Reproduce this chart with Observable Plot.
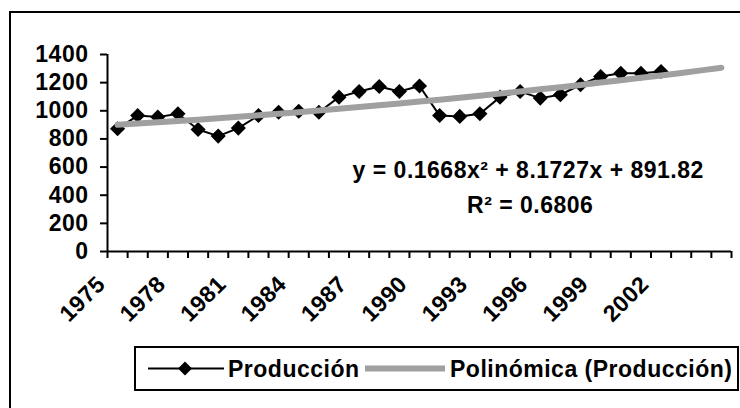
<!DOCTYPE html>
<html>
<head>
<meta charset="utf-8">
<script src="https://cdn.jsdelivr.net/npm/d3@7"></script>
<script src="https://cdn.jsdelivr.net/npm/@observablehq/plot@0.6"></script>
<style>
html, body { margin: 0; padding: 0; background: #fff; width: 740px; height: 408px; overflow: hidden; }
body { position: relative; font-family: "Liberation Sans", Arial, sans-serif; font-weight: bold; }
#chart { position: absolute; left: 0; top: 0; }
#frame { position: absolute; left: 9px; top: 11px; width: 800px; height: 500px; border: 2px solid #000; box-sizing: border-box; pointer-events: none; }
#legend { position: absolute; left: 134px; top: 346px; width: 605px; height: 45px; border: 2px solid #000; box-sizing: border-box; background: #fff; }
#legend .item { position: absolute; top: 0; height: 41px; line-height: 42px; font-size: 23px; letter-spacing: 0.5px; color: #000; white-space: nowrap; }
#legend svg { position: absolute; top: 0; }
</style>
</head>
<body>
<div id="chart"></div>
<div id="legend">
  <svg style="left:12px" width="76" height="41">
    <line x1="0" y1="20.5" x2="76" y2="20.5" stroke="#000" stroke-width="2"/>
    <path d="M37,13.5 L44,20.5 L37,27.5 L30,20.5 Z" fill="#000"/>
  </svg>
  <span class="item" style="left:92px">Producción</span>
  <svg style="left:229px" width="80" height="41">
    <line x1="0" y1="20.5" x2="80" y2="20.5" stroke="#a0a0a0" stroke-width="6"/>
  </svg>
  <span class="item" style="left:314px">Polinómica (Producción)</span>
</div>
<div id="frame"></div>
<script>
// Data
const years = [1975,1976,1977,1978,1979,1980,1981,1982,1983,1984,1985,1986,1987,1988,1989,1990,1991,1992,1993,1994,1995,1996,1997,1998,1999,2000,2001,2002];
const production = [872,966,955,979,867,820,877,966,990,997,990,1097,1137,1173,1137,1176,966,960,979,1097,1137,1090,1114,1185,1244,1267,1267,1279];
// Polynomial trendline (with 3-period forecast) as drawn
const trendYears = [1975,1976,1977,1978,1979,1980,1981,1982,1983,1984,1985,1986,1987,1988,1989,1990,1991,1992,1993,1994,1995,1996,1997,1998,1999,2000,2001,2002,2003,2004,2005];
const trendValues = [900.2,908.8,917.8,927.2,936.9,946.9,957.2,967.9,978.9,990.2,1001.9,1013.9,1026.3,1038.9,1051.9,1065.3,1079.0,1093.0,1107.3,1122.0,1137.0,1152.4,1168.0,1184.0,1200.4,1217.1,1234.1,1251.4,1269.1,1287.1,1305.5];
const yTicks = [0,200,400,600,800,1000,1200,1400];
const labelYears = [1975,1978,1981,1984,1987,1990,1993,1996,1999,2002];
const equationLines = ["y = 0.1668x² + 8.1727x + 891.82", "R² = 0.6806"];

const prodData = years.map((y, i) => ({year: y, value: production[i]}));
const trendData = trendYears.map((y, i) => ({year: y, value: trendValues[i]}));
const categoryEdges = trendYears.map(y => y - 0.5).concat([trendYears[trendYears.length - 1] + 0.5]);
const xDomain = [categoryEdges[0], categoryEdges[categoryEdges.length - 1]];

const chart = Plot.plot({
  width: 740,
  height: 340,
  marginLeft: 107,
  marginRight: 9,
  marginTop: 54,
  marginBottom: 89,
  style: {
    fontFamily: "'Liberation Sans', Arial, sans-serif",
    fontWeight: "bold",
    fontSize: "23px",
    letterSpacing: "0.5px",
    background: "transparent",
    color: "#000",
    overflow: "visible"
  },
  x: {domain: xDomain},
  y: {domain: [0, 1400]},
  marks: [
    Plot.axisY({ticks: yTicks, tickSize: 7, tickPadding: 12, tickFormat: d => String(d), label: null, strokeWidth: 2, fontSize: 23}),
    Plot.axisX({ticks: categoryEdges, tickSize: 7, tickFormat: () => "", label: null, strokeWidth: 2}),
    Plot.ruleX([xDomain[0]], {stroke: "#000", strokeWidth: 2}),
    Plot.ruleY([0], {stroke: "#000", strokeWidth: 2}),
    Plot.text(labelYears, {x: d => d, text: d => String(d), frameAnchor: "bottom", dy: 34, dx: -11, rotate: -45, textAnchor: "end", fontSize: 23, fill: "#000"}),
    Plot.line(prodData, {x: "year", y: "value", stroke: "#000", strokeWidth: 2}),
    Plot.dot(prodData, {x: "year", y: "value", symbol: "diamond2", r: 6.8, fill: "#000", stroke: "none"}),
    Plot.line(trendData, {x: "year", y: "value", stroke: "#a0a0a0", strokeWidth: 6}),
    Plot.text([equationLines[0]], {x: 1995.4, y: 519, text: d => d, textAnchor: "middle", lineAnchor: "bottom", fontSize: 23, fill: "#000"}),
    Plot.text([equationLines[1]], {x: 1995.5, y: 277, text: d => d, textAnchor: "middle", lineAnchor: "bottom", fontSize: 23, fill: "#000"})
  ]
});
document.getElementById("chart").appendChild(chart);
</script>
</body>
</html>
